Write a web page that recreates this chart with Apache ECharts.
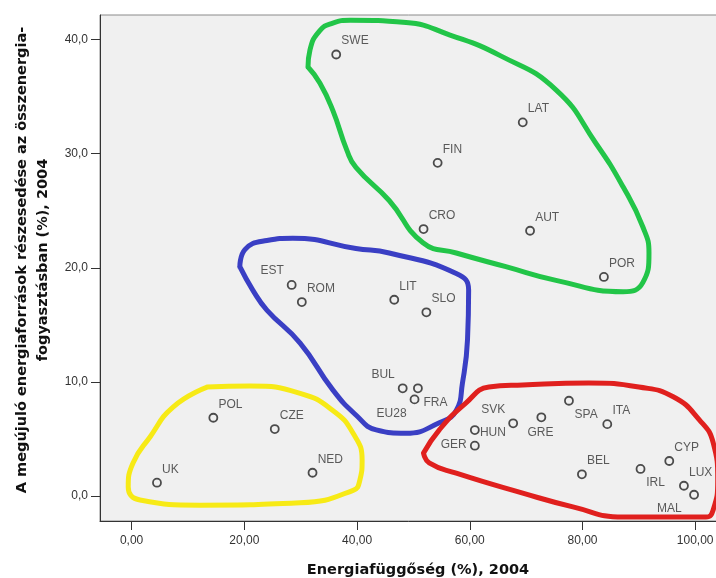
<!DOCTYPE html>
<html>
<head>
<meta charset="utf-8">
<script src="https://cdn.jsdelivr.net/npm/echarts@6/dist/echarts.min.js"></script>
<style>
html,body{margin:0;padding:0;background:#fff;}
#chart{width:716px;height:578px;}
</style>
</head>
<body>
<div id="chart"></div>
<script>
// Countries (labels), energy dependence (%) and renewable share (%), 2004
const countries   = ['SWE','LAT','FIN','CRO','AUT','POR','EST','ROM','LIT','SLO','BUL','FRA','EU28','SVK','HUN','GER','GRE','SPA','ITA','BEL','IRL','CYP','LUX','MAL','UK','POL','CZE','NED'];
const dependence  = [36.3, 69.4, 54.3, 51.8, 70.7, 83.8, 28.4, 30.2, 46.6, 52.3, 48.1, 50.8, 50.2, 67.7, 60.9, 60.9, 72.7, 77.6, 84.4, 79.9, 90.3, 95.4, 98.0, 99.8, 4.5, 14.5, 25.4, 32.1];
const renewables  = [38.7, 32.75, 29.2, 23.4, 23.25, 19.2, 18.5, 17.0, 17.2, 16.1, 9.44, 9.44, 8.47, 6.37, 5.78, 4.41, 6.9, 8.35, 6.3, 1.9, 2.37, 3.07, 0.9, 0.11, 1.17, 6.86, 5.87, 2.04];

const xTicks = [0, 20, 40, 60, 80, 100];
const yTicks = [0, 10, 20, 30, 40];

// Hand-drawn cluster outlines (data coordinates)
const greenX  = [31.3, 31.65, 33.4, 35.7, 38.8, 48.7, 56.5, 65.4, 75.3, 82.4, 87.2, 90.7, 91.8, 90.7, 87.2, 75.3, 66.4, 57.6, 51.7, 45.7, 39.8, 38.2, 35.7, 33.4, 31.3];
const greenY  = [37.6, 39.1, 40.8, 41.45, 41.7, 41.5, 40.4, 38.6, 35.6, 30.9, 27.1, 23.6, 21.3, 18.7, 17.9, 18.9, 20.1, 21.3, 22.2, 25.9, 28.8, 30.3, 33.8, 36.2, 37.6];
const blueX   = [19.2, 20.1, 24.0, 28.6, 39.8, 45.7, 57.6, 59.8, 59.6, 58.7, 57.6, 54.5, 48.7, 43.4, 39.8, 35.7, 29.9, 24.0, 21.5, 19.2];
const blueY   = [20.1, 21.6, 22.4, 22.6, 21.7, 21.3, 19.5, 18.05, 13.7, 9.9, 7.5, 6.4, 5.5, 5.8, 7.1, 9.3, 13.4, 16.3, 18.05, 20.1];
const yellowX = [13.4, 21.0, 29.9, 35.7, 39.3, 40.9, 40.5, 39.3, 29.9, 12.1, 1.5, -0.6, 0.25, 3.3, 7.35, 13.4];
const yellowY = [9.55, 9.64, 9.0, 7.5, 5.5, 3.15, 1.4, 0.5, -0.6, -0.8, -0.35, 0.8, 2.9, 5.2, 7.8, 9.55];
const redX    = [51.8, 54.6, 59.3, 63.4, 69.4, 81.1, 90.0, 96.1, 100.7, 103.2, 104.0, 103.2, 101.9, 87.2, 78.3, 69.4, 57.6, 52.8, 51.8];
const redY    = [3.77, 5.8, 8.15, 9.55, 9.73, 9.9, 9.55, 8.7, 6.7, 4.65, 1.4, -1.2, -1.85, -1.85, -0.95, 0.25, 2.0, 2.9, 3.77];

const xTitle = 'Energiafüggőség (%), 2004';
const yTitle = 'A megújuló energiaforrások részesedése az összenergia-\nfogyasztásban (%), 2004';

// label placement styles (layout only)
const placeStyles = {
  ur:  {position: [10, -8.5], align: 'left',  verticalAlign: 'middle'},
  ul:  {position: [-3, -9],   align: 'right', verticalAlign: 'middle'},
  lr:  {position: [10.5, 19], align: 'left',  verticalAlign: 'middle'},
  ll:  {position: [-3, 19.5], align: 'right', verticalAlign: 'middle'},
  mal: {position: [-7.6, 18.6], align: 'right', verticalAlign: 'middle'},
  r:   {position: [10, 7.3],  align: 'left',  verticalAlign: 'middle'},
  l:   {position: [-3.3, 4],  align: 'right', verticalAlign: 'middle'},
  b:   {position: [4, 20],    align: 'center', verticalAlign: 'middle'}
};
const placeFor = {EST:'ul', BUL:'ul', FRA:'lr', EU28:'ll', SVK:'ul', HUN:'r', GER:'l', GRE:'b', SPA:'lr', IRL:'lr', MAL:'mal'};

const pointData = countries.map((c, i) => {
  const p = placeStyles[placeFor[c] || 'ur'];
  return {
    name: c,
    value: [dependence[i], renewables[i]],
    label: Object.assign({show: true, formatter: c}, p)
  };
});

function blob(xs, ys, color) {
  return {
    type: 'line',
    data: xs.map((x, i) => [x, ys[i]]),
    smooth: 0.5,
    symbol: 'none',
    lineStyle: {color: color, width: 5, cap: 'round', join: 'round'},
    silent: true,
    z: 1,
    animation: false
  };
}

const chart = echarts.init(document.getElementById('chart'), null, {renderer: 'canvas'});
chart.setOption({
  animation: false,
  backgroundColor: '#ffffff',
  grid: {
    left: 100, top: 15, right: -20, bottom: 57,
    containLabel: false, outerBoundsMode: 'none',
    show: true, backgroundColor: '#f0f0f0', borderColor: '#8a8a8a', borderWidth: 1
  },
  xAxis: {
    type: 'value', min: -5.61, max: 107.24,
    name: xTitle, nameLocation: 'middle', nameGap: 42,
    nameTextStyle: {fontFamily: 'DejaVu Sans', fontWeight: 'bold', fontSize: 14.5, color: '#111'},
    splitLine: {show: false},
    axisLine: {show: true, onZero: false, lineStyle: {color: '#333', width: 1}},
    axisTick: {show: true, length: 9, customValues: xTicks, lineStyle: {color: '#333'}},
    axisLabel: {customValues: xTicks, margin: 14, fontFamily: 'Liberation Sans', fontSize: 12, color: '#333',
      formatter: v => v.toFixed(2).replace('.', ',')}
  },
  yAxis: {
    type: 'value', min: -2.19, max: 42.16,
    name: yTitle, nameLocation: 'middle', nameRotate: 90, nameGap: 47,
    nameTextStyle: {fontFamily: 'DejaVu Sans', fontWeight: 'bold', fontSize: 14.5, color: '#111', lineHeight: 20.5, align: 'center', padding: [0, 0, 0, 16]},
    splitLine: {show: false},
    axisLine: {show: true, onZero: false, lineStyle: {color: '#333', width: 1}},
    axisTick: {show: true, length: 9, customValues: yTicks, lineStyle: {color: '#333'}},
    axisLabel: {customValues: yTicks, margin: 12, fontFamily: 'Liberation Sans', fontSize: 12, color: '#333',
      formatter: v => v.toFixed(1).replace('.', ',')}
  },
  series: [
    blob(greenX, greenY, '#22c548'),
    blob(blueX, blueY, '#3a3fc4'),
    blob(yellowX, yellowY, '#f7ea16'),
    blob(redX, redY, '#e0201e'),
    {
      type: 'scatter',
      data: pointData,
      symbol: 'circle',
      symbolSize: 8,
      itemStyle: {color: 'rgba(240,240,240,0)', borderColor: '#222', borderWidth: 1.8},
      label: {fontFamily: 'Liberation Sans', fontSize: 12, color: '#333'},
      labelLayout: {hideOverlap: false},
      z: 3
    }
  ]
});
</script>
</body>
</html>
